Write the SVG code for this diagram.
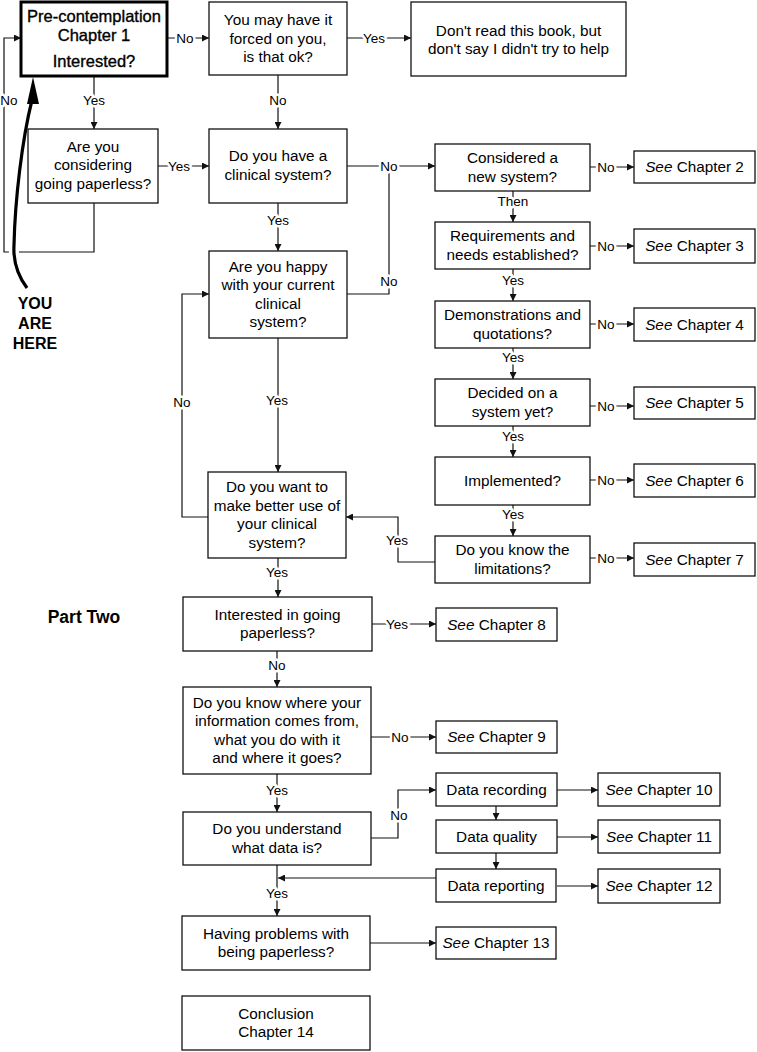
<svg xmlns="http://www.w3.org/2000/svg" width="757" height="1052" viewBox="0 0 757 1052">
<style>
.box{fill:#fff;stroke:#111;stroke-width:1.3}
.t{font-family:"Liberation Sans",Arial,sans-serif;font-size:15.3px;fill:#000;text-anchor:middle}
.ta{font-family:"Liberation Sans",Arial,sans-serif;font-size:16.5px;fill:#000;text-anchor:middle;stroke:#000;stroke-width:0.35}
.b{font-family:"Liberation Sans",Arial,sans-serif;font-weight:bold;fill:#000;text-anchor:middle}
.c{fill:none;stroke:#111;stroke-width:1.2}
.l{font-family:"Liberation Sans",Arial,sans-serif;font-size:13.5px;fill:#000;text-anchor:middle;stroke:#fff;stroke-width:5;paint-order:stroke;stroke-linejoin:round}
.i{font-style:italic}
</style>
<defs>
<marker id="ah" viewBox="0 0 10 10" refX="10" refY="5" markerWidth="10" markerHeight="7" orient="auto" markerUnits="userSpaceOnUse"><path d="M0,0 L10,5 L0,10 z" fill="#111"/></marker>
</defs>
<rect width="757" height="1052" fill="#fff"/>

<g id="connectors">
<path class="c" d="M167,38 H209" marker-end="url(#ah)"/>
<path class="c" d="M347,38 H411" marker-end="url(#ah)"/>
<path class="c" d="M94,76 V129" marker-end="url(#ah)"/>
<path class="c" d="M278,75 V129" marker-end="url(#ah)"/>
<path class="c" d="M158,166 H209" marker-end="url(#ah)"/>
<path class="c" d="M94,203 V252 H4 V38 H21" marker-end="url(#ah)"/>
<path class="c" d="M347,166 H435" marker-end="url(#ah)"/>
<path class="c" d="M347,294 H389 V166"/>
<path class="c" d="M278,203 V251" marker-end="url(#ah)"/>
<path class="c" d="M278,338 V472" marker-end="url(#ah)"/>
<path class="c" d="M208,517 H182 V294 H209" marker-end="url(#ah)"/>
<path class="c" d="M278,558 V597" marker-end="url(#ah)"/>
<path class="c" d="M590,167 H634" marker-end="url(#ah)"/>
<path class="c" d="M513,191 V222" marker-end="url(#ah)"/>
<path class="c" d="M590,246 H634" marker-end="url(#ah)"/>
<path class="c" d="M513,269 V301" marker-end="url(#ah)"/>
<path class="c" d="M590,324 H634" marker-end="url(#ah)"/>
<path class="c" d="M513,348 V379" marker-end="url(#ah)"/>
<path class="c" d="M590,406 H634" marker-end="url(#ah)"/>
<path class="c" d="M513,426 V457" marker-end="url(#ah)"/>
<path class="c" d="M590,480 H634" marker-end="url(#ah)"/>
<path class="c" d="M513,505 V536" marker-end="url(#ah)"/>
<path class="c" d="M590,558 H634" marker-end="url(#ah)"/>
<path class="c" d="M435,562 H398 V517 H346" marker-end="url(#ah)"/>
<path class="c" d="M372,624 H436" marker-end="url(#ah)"/>
<path class="c" d="M277,651 V687" marker-end="url(#ah)"/>
<path class="c" d="M371,737 H436" marker-end="url(#ah)"/>
<path class="c" d="M277,774 V812" marker-end="url(#ah)"/>
<path class="c" d="M371,838 H398 V790 H436" marker-end="url(#ah)"/>
<path class="c" d="M557,790 H598" marker-end="url(#ah)"/>
<path class="c" d="M496,806 V820" marker-end="url(#ah)"/>
<path class="c" d="M557,837 H598" marker-end="url(#ah)"/>
<path class="c" d="M496,853 V869" marker-end="url(#ah)"/>
<path class="c" d="M557,886 H598" marker-end="url(#ah)"/>
<path class="c" d="M436,878 H278" marker-end="url(#ah)"/>
<path class="c" d="M277,865 V916" marker-end="url(#ah)"/>
<path class="c" d="M370,943 H436" marker-end="url(#ah)"/>

<text class="l" x="185" y="43">No</text>
<text class="l" x="374" y="43">Yes</text>
<text class="l" x="94" y="105">Yes</text>
<text class="l" x="278" y="105">No</text>
<text class="l" x="179" y="171">Yes</text>
<text class="l" x="9" y="105">No</text>
<text class="l" x="389" y="171">No</text>
<text class="l" x="389" y="286">No</text>
<text class="l" x="278" y="225">Yes</text>
<text class="l" x="277" y="405">Yes</text>
<text class="l" x="182" y="407">No</text>
<text class="l" x="277" y="577">Yes</text>
<text class="l" x="606" y="172">No</text>
<text class="l" x="513" y="206">Then</text>
<text class="l" x="606" y="251">No</text>
<text class="l" x="513" y="285">Yes</text>
<text class="l" x="606" y="329">No</text>
<text class="l" x="513" y="362">Yes</text>
<text class="l" x="606" y="411">No</text>
<text class="l" x="513" y="441">Yes</text>
<text class="l" x="606" y="485">No</text>
<text class="l" x="513" y="519">Yes</text>
<text class="l" x="606" y="563">No</text>
<text class="l" x="397" y="545">Yes</text>
<text class="l" x="397" y="629">Yes</text>
<text class="l" x="277" y="670">No</text>
<text class="l" x="400" y="742">No</text>
<text class="l" x="277" y="795">Yes</text>
<text class="l" x="399" y="820">No</text>
<text class="l" x="277" y="898">Yes</text>
</g>

<g id="you-are-here">
<path d="M27,288 C18,276 13,262 14,245 C15,200 22,140 32,100" fill="none" stroke="#fff" stroke-width="10"/>
<path d="M27,288 C18,276 13,262 14,245 C15,200 22,140 32,100" fill="none" stroke="#000" stroke-width="3.2"/>
<polygon points="33,77 27,104 39,104" fill="#000"/>
<text class="b" font-size="16" x="35" y="309">YOU</text>
<text class="b" font-size="16" x="35" y="329">ARE</text>
<text class="b" font-size="16" x="35" y="349">HERE</text>
</g>

<g id="part-two"><text class="b" font-size="17.5" x="84" y="623">Part Two</text></g>

<g id="n-precontemplation"><rect x="21" y="2" width="146" height="74" fill="#fff" stroke="#000" stroke-width="3"/>
<text class="ta" x="94" y="22">Pre-contemplation</text><text class="ta" x="94" y="41">Chapter 1</text><text class="ta" x="94" y="67">Interested?</text></g>

<g id="n-forced"><rect class="box" x="209" y="2" width="138" height="73"/>
<text class="t" x="278" y="25">You may have it</text><text class="t" x="278" y="43.5">forced on you,</text><text class="t" x="278" y="62">is that ok?</text></g>

<g id="n-dontread"><rect class="box" x="411" y="2" width="215" height="74"/>
<text class="t" x="518.5" y="35.5">Don't read this book, but</text><text class="t" x="518.5" y="54">don't say I didn't try to help</text></g>

<g id="n-considering"><rect class="box" x="28" y="129" width="130" height="74"/>
<text class="t" x="93" y="151.5">Are you</text><text class="t" x="93" y="170">considering</text><text class="t" x="93" y="188.5">going paperless?</text></g>

<g id="n-clinical"><rect class="box" x="209" y="129" width="138" height="74"/>
<text class="t" x="278" y="161">Do you have a</text><text class="t" x="278" y="179.5">clinical system?</text></g>

<g id="n-happy"><rect class="box" x="209" y="251" width="138" height="87"/>
<text class="t" x="278" y="271.75">Are you happy</text><text class="t" x="278" y="290.25">with your current</text><text class="t" x="278" y="308.75">clinical</text><text class="t" x="278" y="327.25">system?</text></g>

<g id="n-betteruse"><rect class="box" x="208" y="472" width="138" height="86"/>
<text class="t" x="277" y="492.25">Do you want to</text><text class="t" x="277" y="510.75">make better use of</text><text class="t" x="277" y="529.25">your clinical</text><text class="t" x="277" y="547.75">system?</text></g>

<g id="n-considered"><rect class="box" x="435" y="144" width="155" height="47"/>
<text class="t" x="512.5" y="163.25">Considered a</text><text class="t" x="512.5" y="181.75">new system?</text></g>
<g id="n-ch2"><rect class="box" x="634" y="151" width="121" height="32"/><text class="t" x="694.5" y="172.3"><tspan class="i">See</tspan> Chapter 2</text></g>

<g id="n-requirements"><rect class="box" x="435" y="222" width="155" height="47"/>
<text class="t" x="512.5" y="241.25">Requirements and</text><text class="t" x="512.5" y="259.75">needs established?</text></g>
<g id="n-ch3"><rect class="box" x="634" y="229" width="121" height="34"/><text class="t" x="694.5" y="251.3"><tspan class="i">See</tspan> Chapter 3</text></g>

<g id="n-demonstrations"><rect class="box" x="435" y="301" width="155" height="47"/>
<text class="t" x="512.5" y="320.25">Demonstrations and</text><text class="t" x="512.5" y="338.75">quotations?</text></g>
<g id="n-ch4"><rect class="box" x="634" y="308" width="121" height="33"/><text class="t" x="694.5" y="329.8"><tspan class="i">See</tspan> Chapter 4</text></g>

<g id="n-decided"><rect class="box" x="435" y="379" width="155" height="47"/>
<text class="t" x="512.5" y="398.25">Decided on a</text><text class="t" x="512.5" y="416.75">system yet?</text></g>
<g id="n-ch5"><rect class="box" x="634" y="387" width="121" height="32"/><text class="t" x="694.5" y="408.3"><tspan class="i">See</tspan> Chapter 5</text></g>

<g id="n-implemented"><rect class="box" x="435" y="457" width="155" height="48"/>
<text class="t" x="512.5" y="486.3">Implemented?</text></g>
<g id="n-ch6"><rect class="box" x="634" y="464" width="121" height="33"/><text class="t" x="694.5" y="485.8"><tspan class="i">See</tspan> Chapter 6</text></g>

<g id="n-limitations"><rect class="box" x="435" y="536" width="155" height="47"/>
<text class="t" x="512.5" y="555.25">Do you know the</text><text class="t" x="512.5" y="573.75">limitations?</text></g>
<g id="n-ch7"><rect class="box" x="634" y="543" width="121" height="33"/><text class="t" x="694.5" y="564.8"><tspan class="i">See</tspan> Chapter 7</text></g>

<g id="n-interested"><rect class="box" x="183" y="597" width="189" height="54"/>
<text class="t" x="277.5" y="619.75">Interested in going</text><text class="t" x="277.5" y="638.25">paperless?</text></g>
<g id="n-ch8"><rect class="box" x="436" y="608" width="121" height="33"/><text class="t" x="496.5" y="629.8"><tspan class="i">See</tspan> Chapter 8</text></g>

<g id="n-information"><rect class="box" x="183" y="687" width="188" height="87"/>
<text class="t" x="277" y="707.75">Do you know where your</text><text class="t" x="277" y="726.25">information comes from,</text><text class="t" x="277" y="744.75">what you do with it</text><text class="t" x="277" y="763.25">and where it goes?</text></g>
<g id="n-ch9"><rect class="box" x="436" y="721" width="121" height="32"/><text class="t" x="496.5" y="742.3"><tspan class="i">See</tspan> Chapter 9</text></g>

<g id="n-data"><rect class="box" x="183" y="812" width="188" height="53"/>
<text class="t" x="277" y="834.25">Do you understand</text><text class="t" x="277" y="852.75">what data is?</text></g>

<g id="n-recording"><rect class="box" x="436" y="773" width="121" height="33"/><text class="t" x="496.5" y="794.8">Data recording</text></g>
<g id="n-ch10"><rect class="box" x="598" y="773" width="122" height="33"/><text class="t" x="659" y="794.8"><tspan class="i">See</tspan> Chapter 10</text></g>
<g id="n-quality"><rect class="box" x="436" y="820" width="121" height="33"/><text class="t" x="496.5" y="841.8">Data quality</text></g>
<g id="n-ch11"><rect class="box" x="598" y="820" width="122" height="33"/><text class="t" x="659" y="841.8"><tspan class="i">See</tspan> Chapter 11</text></g>
<g id="n-reporting"><rect class="box" x="436" y="869" width="120" height="33"/><text class="t" x="496" y="890.8">Data reporting</text></g>
<g id="n-ch12"><rect class="box" x="598" y="869" width="122" height="34"/><text class="t" x="659" y="891.3"><tspan class="i">See</tspan> Chapter 12</text></g>

<g id="n-problems"><rect class="box" x="182" y="916" width="188" height="54"/>
<text class="t" x="276" y="938.75">Having problems with</text><text class="t" x="276" y="957.25">being paperless?</text></g>
<g id="n-ch13"><rect class="box" x="436" y="927" width="120" height="32"/><text class="t" x="496" y="948.3"><tspan class="i">See</tspan> Chapter 13</text></g>

<g id="n-conclusion"><rect class="box" x="182" y="996" width="188" height="54"/>
<text class="t" x="276" y="1018.75">Conclusion</text><text class="t" x="276" y="1037.25">Chapter 14</text></g>
</svg>
